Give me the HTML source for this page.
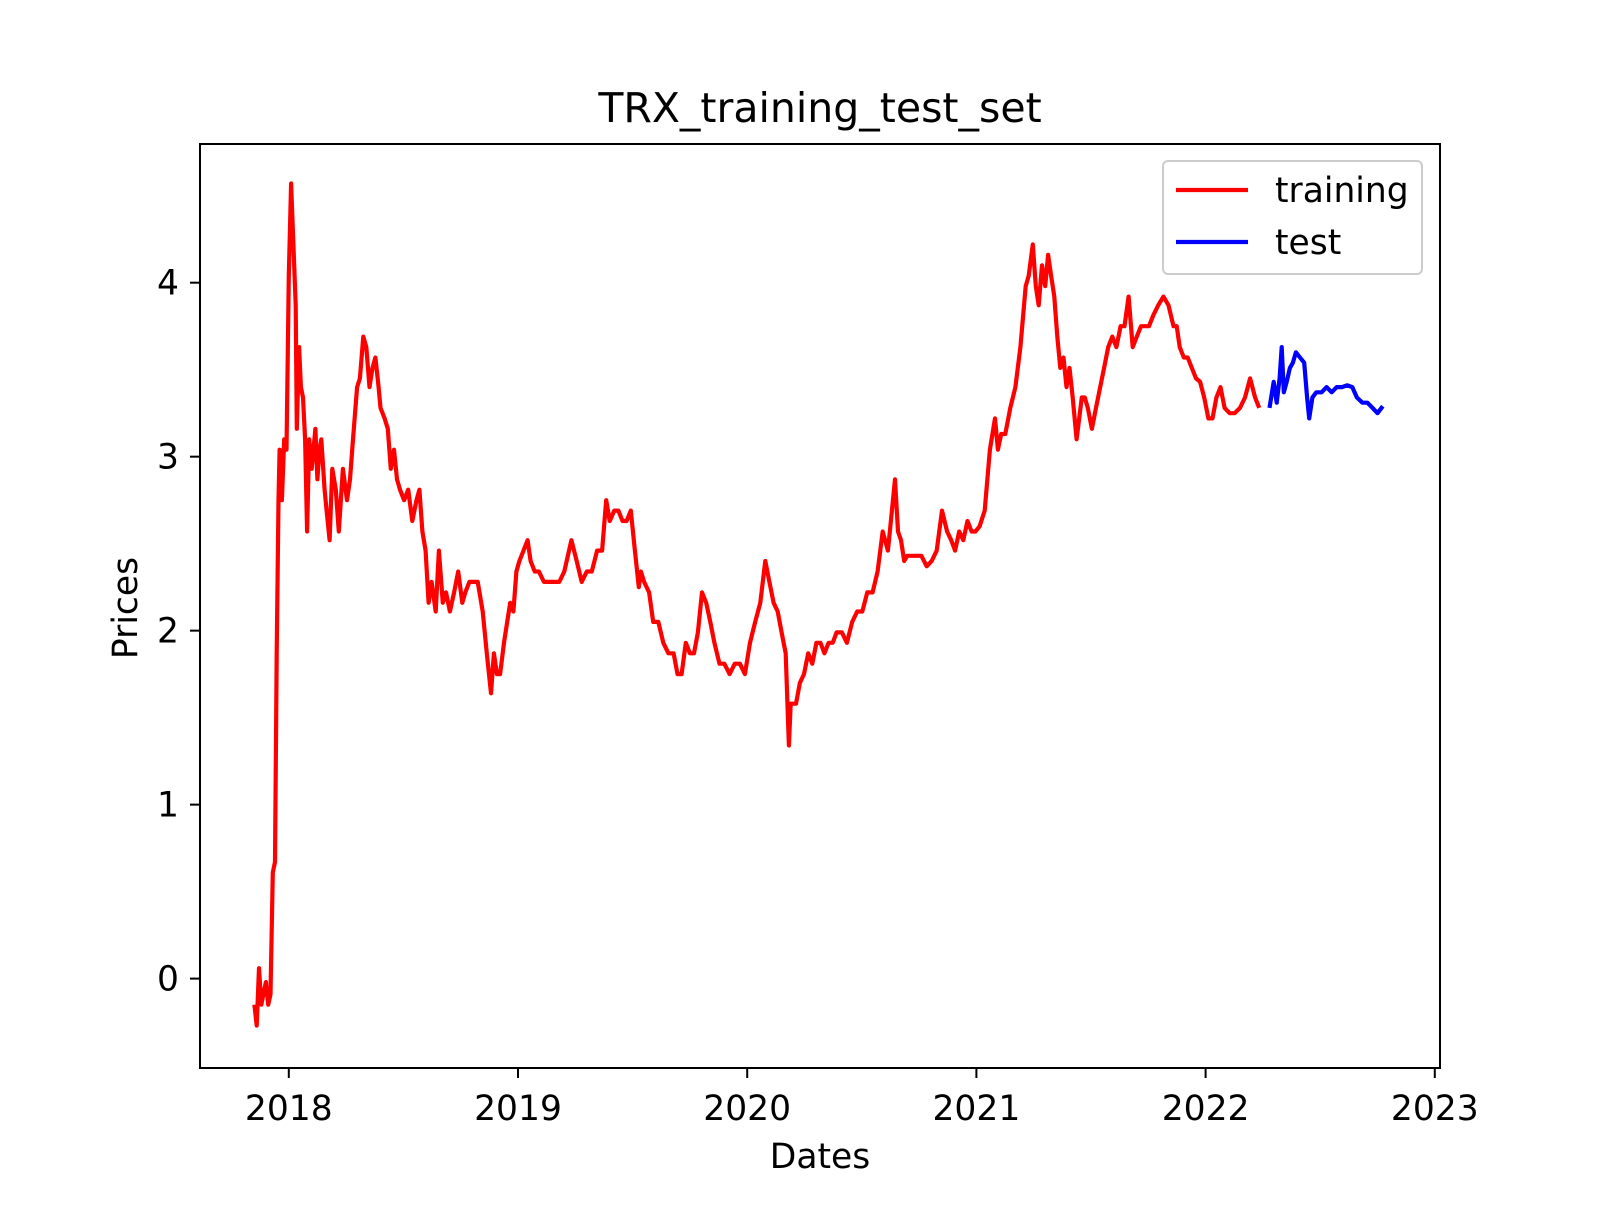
<!DOCTYPE html>
<html><head><meta charset="utf-8"><style>
html,body{margin:0;padding:0;background:#fff;}
svg text{font-family:"DejaVu Sans","Liberation Sans",sans-serif;fill:#000;}
</style></head><body>
<svg id="chart" width="1600" height="1200" viewBox="0 0 1600 1200" xmlns="http://www.w3.org/2000/svg">
<rect width="1600" height="1200" fill="#fff"/>
<text x="820" y="122" font-size="41" text-anchor="middle">TRX_training_test_set</text>
<g id="ticks"></g>
<g id="series"></g>
<rect x="200" y="144" width="1240" height="924" fill="none" stroke="#000" stroke-width="2"/>
<text x="820" y="1168" font-size="34.5" text-anchor="middle">Dates</text>
<text x="0" y="0" font-size="34.5" text-anchor="middle" transform="translate(137,608) rotate(-90)">Prices</text>
<g>
<rect x="1163" y="161" width="259" height="113" rx="5" fill="#fff" fill-opacity="0.8" stroke="#ccc" stroke-width="2"/>
<line x1="1176" y1="190" x2="1248" y2="190" stroke="#f00" stroke-width="4.2"/>
<text x="1275" y="202" font-size="34.5">training</text>
<line x1="1176" y1="242" x2="1248" y2="242" stroke="#00f" stroke-width="4.2"/>
<text x="1275" y="254" font-size="34.5">test</text>
</g>
</svg>
<script>
const xTicks = [2018, 2019, 2020, 2021, 2022, 2023];
const yTicks = [0, 1, 2, 3, 4];
const trainDates = [2017.85,2017.86,2017.87,2017.88,2017.90,2017.91,2017.92,2017.93,2017.94,2017.947,2017.955,2017.96,2017.97,2017.98,2017.99,2018.00,2018.01,2018.02,2018.03,2018.035,2018.045,2018.053,2018.062,2018.071,2018.08,2018.089,2018.10,2018.116,2018.125,2018.134,2018.142,2018.156,2018.165,2018.178,2018.19,2018.205,2018.218,2018.236,2018.254,2018.267,2018.28,2018.298,2018.31,2018.325,2018.338,2018.352,2018.365,2018.378,2018.392,2018.40,2018.418,2018.432,2018.445,2018.459,2018.472,2018.485,2018.503,2018.521,2018.539,2018.557,2018.57,2018.583,2018.597,2018.61,2018.623,2018.641,2018.655,2018.672,2018.686,2018.703,2018.721,2018.739,2018.757,2018.77,2018.788,2018.806,2018.824,2018.846,2018.864,2018.882,2018.895,2018.908,2018.922,2018.939,2018.953,2018.966,2018.98,2018.993,2019.006,2019.024,2019.042,2019.055,2019.073,2019.091,2019.113,2019.135,2019.158,2019.18,2019.202,2019.233,2019.256,2019.278,2019.30,2019.322,2019.345,2019.367,2019.385,2019.40,2019.42,2019.438,2019.456,2019.474,2019.492,2019.51,2019.527,2019.536,2019.55,2019.572,2019.59,2019.612,2019.634,2019.656,2019.679,2019.696,2019.714,2019.732,2019.75,2019.768,2019.785,2019.803,2019.821,2019.839,2019.857,2019.879,2019.90,2019.923,2019.946,2019.968,2019.99,2020.012,2020.035,2020.057,2020.079,2020.097,2020.115,2020.133,2020.15,2020.168,2020.182,2020.19,2020.20,2020.213,2020.23,2020.248,2020.266,2020.284,2020.302,2020.32,2020.337,2020.355,2020.373,2020.39,2020.413,2020.435,2020.458,2020.48,2020.502,2020.524,2020.547,2020.569,2020.591,2020.614,2020.627,2020.645,2020.658,2020.671,2020.685,2020.698,2020.716,2020.738,2020.76,2020.783,2020.805,2020.827,2020.85,2020.872,2020.89,2020.907,2020.925,2020.943,2020.961,2020.979,2020.996,2021.014,2021.036,2021.059,2021.081,2021.094,2021.108,2021.126,2021.148,2021.17,2021.192,2021.215,2021.228,2021.246,2021.259,2021.272,2021.286,2021.30,2021.313,2021.326,2021.34,2021.353,2021.366,2021.38,2021.393,2021.406,2021.42,2021.437,2021.46,2021.473,2021.486,2021.504,2021.522,2021.54,2021.557,2021.575,2021.593,2021.611,2021.629,2021.646,2021.664,2021.682,2021.70,2021.718,2021.735,2021.753,2021.771,2021.793,2021.816,2021.838,2021.86,2021.874,2021.887,2021.905,2021.922,2021.94,2021.958,2021.976,2021.994,2022.012,2022.03,2022.047,2022.065,2022.083,2022.105,2022.127,2022.15,2022.172,2022.194,2022.216,2022.234,2022.252,2022.265];
const trainValues = [-0.15,-0.27,0.06,-0.15,-0.02,-0.15,-0.09,0.61,0.67,1.87,2.75,3.04,2.75,3.10,3.04,4.04,4.57,4.22,3.87,3.16,3.63,3.40,3.34,3.10,2.57,3.10,2.93,3.16,2.87,3.04,3.10,2.81,2.69,2.52,2.93,2.81,2.57,2.93,2.75,2.87,3.10,3.40,3.45,3.69,3.63,3.40,3.51,3.57,3.40,3.28,3.22,3.16,2.93,3.04,2.87,2.81,2.75,2.81,2.63,2.75,2.81,2.57,2.46,2.16,2.28,2.11,2.46,2.16,2.22,2.11,2.22,2.34,2.16,2.22,2.28,2.28,2.28,2.11,1.87,1.64,1.87,1.75,1.75,1.93,2.05,2.16,2.11,2.34,2.40,2.46,2.52,2.40,2.34,2.34,2.28,2.28,2.28,2.28,2.34,2.52,2.40,2.28,2.34,2.34,2.46,2.46,2.75,2.63,2.69,2.69,2.63,2.63,2.69,2.46,2.25,2.34,2.28,2.22,2.05,2.05,1.93,1.87,1.87,1.75,1.75,1.93,1.87,1.87,1.99,2.22,2.16,2.05,1.93,1.81,1.81,1.75,1.81,1.81,1.75,1.93,2.05,2.16,2.40,2.28,2.16,2.11,1.99,1.87,1.34,1.58,1.58,1.58,1.70,1.75,1.87,1.81,1.93,1.93,1.87,1.93,1.93,1.99,1.99,1.93,2.05,2.11,2.11,2.22,2.22,2.34,2.57,2.46,2.63,2.87,2.57,2.52,2.40,2.43,2.43,2.43,2.43,2.37,2.40,2.46,2.69,2.57,2.52,2.46,2.57,2.52,2.63,2.57,2.57,2.60,2.69,3.04,3.22,3.04,3.13,3.13,3.28,3.40,3.63,3.98,4.04,4.22,3.98,3.87,4.10,3.98,4.16,4.04,3.92,3.69,3.51,3.57,3.40,3.51,3.34,3.10,3.34,3.34,3.28,3.16,3.28,3.40,3.51,3.63,3.69,3.63,3.75,3.75,3.92,3.63,3.69,3.75,3.75,3.75,3.81,3.87,3.92,3.87,3.75,3.75,3.63,3.57,3.57,3.51,3.45,3.43,3.34,3.22,3.22,3.34,3.40,3.28,3.25,3.25,3.28,3.34,3.45,3.34,3.28];
const testDates = [2022.279,2022.297,2022.31,2022.323,2022.332,2022.341,2022.354,2022.368,2022.381,2022.394,2022.412,2022.43,2022.443,2022.452,2022.466,2022.483,2022.506,2022.528,2022.55,2022.572,2022.595,2022.617,2022.64,2022.66,2022.684,2022.706,2022.728,2022.75,2022.773];
const testValues = [3.28,3.43,3.31,3.45,3.63,3.37,3.43,3.51,3.54,3.60,3.57,3.54,3.34,3.22,3.34,3.37,3.37,3.40,3.37,3.40,3.40,3.41,3.40,3.34,3.31,3.31,3.28,3.25,3.29];

const X0 = 288.8, PXYR = 229.2, Y0 = 978.6, PXU = 173.98;
function xs(d){ return X0 + (d - 2018) * PXYR; }
function ys(v){ return Y0 - v * PXU; }
const NS = 'http://www.w3.org/2000/svg';
const tg = document.getElementById('ticks');
xTicks.forEach(t => {
  const l = document.createElementNS(NS,'line');
  l.setAttribute('x1', xs(t)); l.setAttribute('x2', xs(t));
  l.setAttribute('y1', 1068); l.setAttribute('y2', 1078);
  l.setAttribute('stroke','#000'); l.setAttribute('stroke-width','2');
  
  
  tg.appendChild(l);
  const tx = document.createElementNS(NS,'text');
  tx.setAttribute('x', xs(t)); tx.setAttribute('y', 1120);
  tx.setAttribute('font-size','34.5'); tx.setAttribute('text-anchor','middle');
  tx.textContent = t;
  
  
  tg.appendChild(tx);
});
yTicks.forEach(t => {
  const l = document.createElementNS(NS,'line');
  l.setAttribute('x1', 190); l.setAttribute('x2', 200);
  l.setAttribute('y1', ys(t)); l.setAttribute('y2', ys(t));
  l.setAttribute('stroke','#000'); l.setAttribute('stroke-width','2');
  
  
  tg.appendChild(l);
  const tx = document.createElementNS(NS,'text');
  tx.setAttribute('x', 179); tx.setAttribute('y', ys(t) + 12);
  tx.setAttribute('font-size','34.5'); tx.setAttribute('text-anchor','end');
  tx.textContent = t;
  
  
  tg.appendChild(tx);
});
const sg = document.getElementById('series');
function addLine(dates, vals, color, name){
  const p = document.createElementNS(NS,'polyline');
  p.setAttribute('points', dates.map((d,i) => xs(d).toFixed(1) + ',' + ys(vals[i]).toFixed(1)).join(' '));
  p.setAttribute('fill','none'); p.setAttribute('stroke', color);
  p.setAttribute('stroke-width','4.2'); p.setAttribute('stroke-linejoin','round');
  
  
  sg.appendChild(p);
}
addLine(trainDates, trainValues, '#f00', 'training-line');
addLine(testDates, testValues, '#00f', 'test-line');
</script>
</body></html>
